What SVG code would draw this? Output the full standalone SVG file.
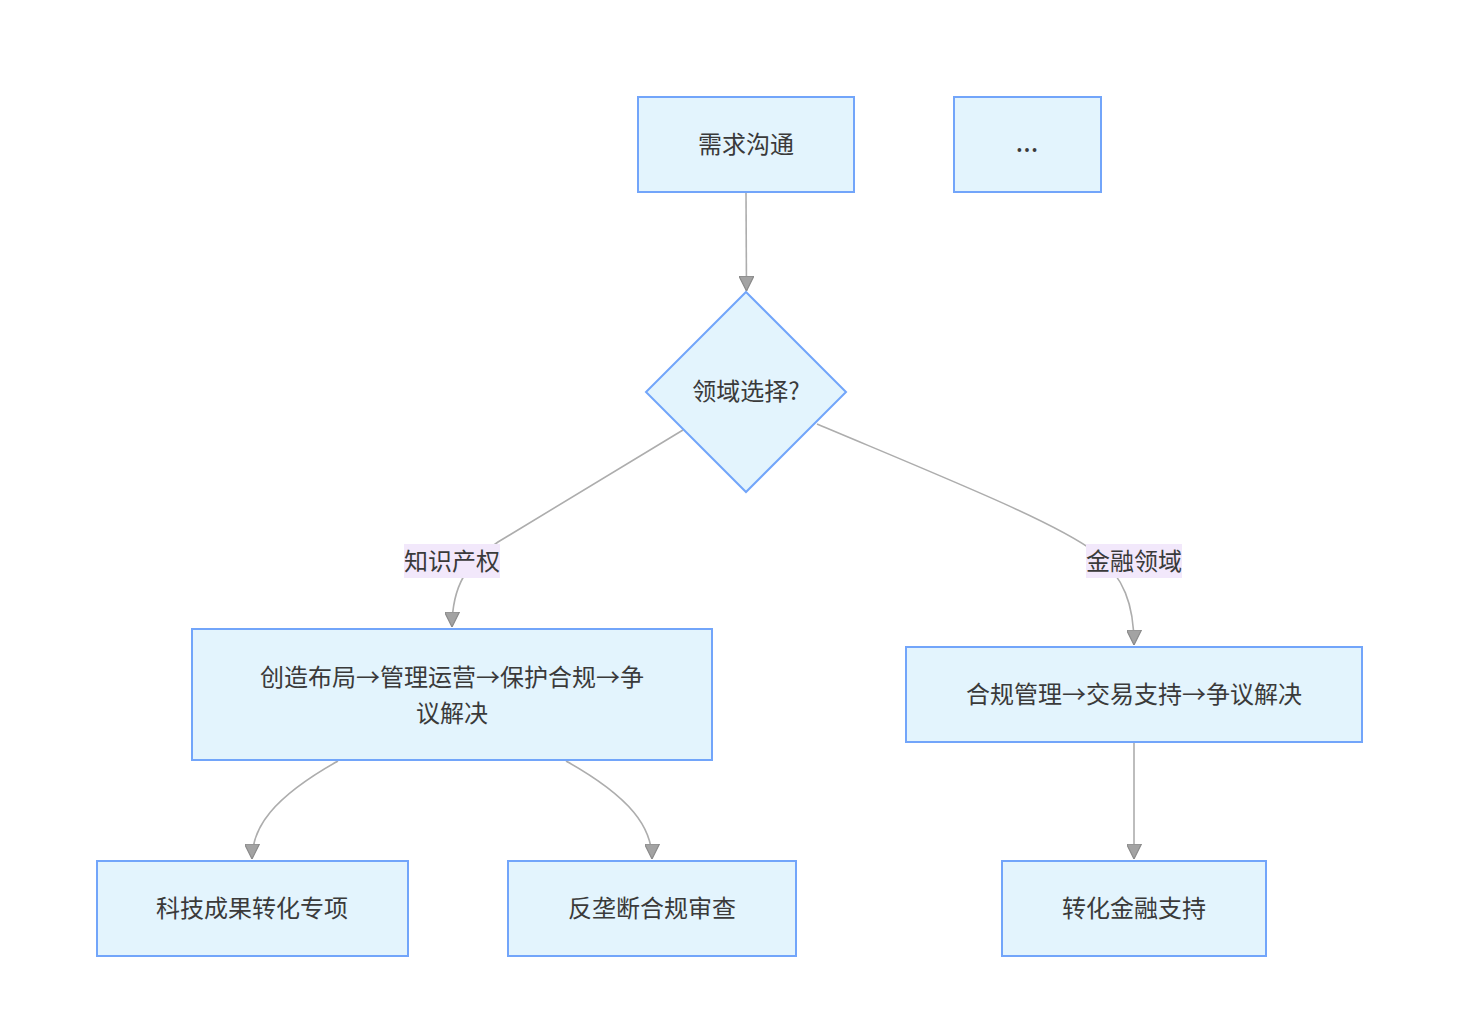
<svg xmlns="http://www.w3.org/2000/svg" width="1458" height="1023" viewBox="0 0 1458 1023">
<style>
.node rect,.node polygon{fill:#e3f4fd;stroke:#72a5fa;stroke-width:2}
.t{font-family:"Noto Sans CJK SC","Noto Sans",sans-serif;font-size:24px;fill:#3a3a3a;text-anchor:middle;dominant-baseline:central}
.lat{font-family:"Noto Sans","Noto Sans CJK SC",sans-serif;font-size:29px}
.edge{fill:none;stroke:#adadad;stroke-width:1.6}
.lbl{fill:#f2e8fb}
</style>
<defs>
<marker id="ah" viewBox="0 0 10 10" refX="10" refY="5" markerUnits="userSpaceOnUse" markerWidth="15" markerHeight="15" orient="auto">
<path d="M0,0 L10,5 L0,10 z" fill="#a3a3a3" stroke="#8a8a8a" stroke-width="0.8"/>
</marker>
</defs>
<rect width="1458" height="1023" fill="#fff"/>
<g id="connectors">
<path class="edge" d="M746,192 L746.5,291" marker-end="url(#ah)"/>
<path class="edge" d="M683,430 L498,542 C468,562 452,585 452,627" marker-end="url(#ah)"/>
<path class="edge" d="M817,424 C950,480 1055,522 1095,552 C1124,578 1134,604 1134,645" marker-end="url(#ah)"/>
<path class="edge" d="M338,761 C272,798 252,828 252,859" marker-end="url(#ah)"/>
<path class="edge" d="M566,761 C632,798 652,828 652,859" marker-end="url(#ah)"/>
<path class="edge" d="M1134,743 L1134,859" marker-end="url(#ah)"/>
<g id="label-ip"><rect class="lbl" x="404" y="544" width="96" height="34"/><text class="t" x="452" y="559">知识产权</text></g>
<g id="label-fin"><rect class="lbl" x="1086" y="544" width="96" height="34"/><text class="t" x="1134" y="559">金融领域</text></g>
</g>
<g id="n-xuqiu" class="node"><rect x="638" y="97" width="216" height="95"/><text class="t" x="746" y="142">需求沟通</text></g>
<g id="n-more" class="node"><rect x="954" y="97" width="147" height="95"/><text class="t lat" x="1027" y="140">…</text></g>
<g id="n-choice" class="node"><polygon points="746,292 846,392 746,492 646,392"/><text class="t" x="746" y="389">领域选择?</text></g>
<g id="n-ip" class="node"><rect x="192" y="629" width="520" height="131"/><text class="t" x="452" y="675">创造布局→管理运营→保护合规→争</text><text class="t" x="452" y="711">议解决</text></g>
<g id="n-fin" class="node"><rect x="906" y="647" width="456" height="95"/><text class="t" x="1134" y="692">合规管理→交易支持→争议解决</text></g>
<g id="n-tech" class="node"><rect x="97" y="861" width="311" height="95"/><text class="t" x="252" y="906">科技成果转化专项</text></g>
<g id="n-anti" class="node"><rect x="508" y="861" width="288" height="95"/><text class="t" x="652" y="906">反垄断合规审查</text></g>
<g id="n-finsup" class="node"><rect x="1002" y="861" width="264" height="95"/><text class="t" x="1134" y="906">转化金融支持</text></g>
</svg>
